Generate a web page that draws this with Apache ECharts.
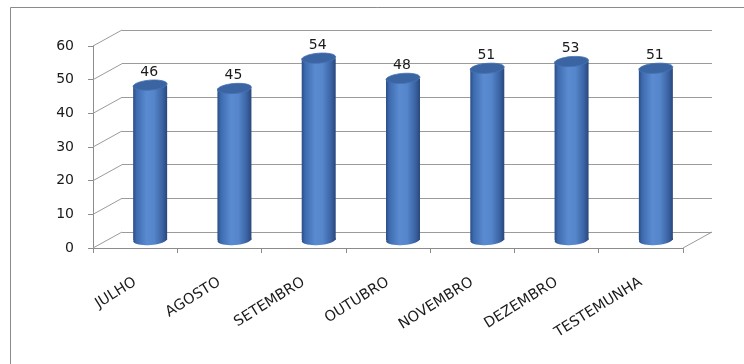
<!DOCTYPE html>
<html>
<head>
<meta charset="utf-8">
<script src="https://cdn.jsdelivr.net/npm/echarts@6/dist/echarts.min.js"></script>
<style>
  html, body { margin: 0; padding: 0; background: #fff; }
  #chart { width: 744px; height: 364px; }
</style>
</head>
<body>
<div id="chart"></div>
<script>
// Monthly counts, with the control group ("TESTEMUNHA") last
const categories = ['JULHO', 'AGOSTO', 'SETEMBRO', 'OUTUBRO', 'NOVEMBRO', 'DEZEMBRO', 'TESTEMUNHA'];
const values = [46, 45, 54, 48, 51, 53, 51];
const yMin = 0, yMax = 60, yStep = 10;
const yTicks = [0, 10, 20, 30, 40, 50, 60];

// Front plane of the pseudo-3D box and the depth shift to its back wall
const FRONT = { left: 93, top: 46, right: 61, bottom: 116 };
const DEPTH = { x: 29, y: -16 };
const BACK = {
  left: FRONT.left + DEPTH.x, top: FRONT.top + DEPTH.y,
  right: FRONT.right - DEPTH.x, bottom: FRONT.bottom - DEPTH.y
};

const GRID_COLOR = '#9b9b9b';
const AXIS_COLOR = '#8c8c8c';
const TEXT_COLOR = '#1a1a1a';
const FONT = 'DejaVu Sans';

const bodyGradient = {
  type: 'linear', x: 0, y: 0, x2: 1, y2: 0,
  colorStops: [
    { offset: 0, color: '#2b4d85' },
    { offset: 0.1, color: '#3e6baf' },
    { offset: 0.4, color: '#5a8bd1' },
    { offset: 0.62, color: '#5585ca' },
    { offset: 0.86, color: '#3b64a4' },
    { offset: 1, color: '#29477b' }
  ]
};

const chart = echarts.init(document.getElementById('chart'), null, { renderer: 'canvas' });

chart.setOption({
  animation: false,
  backgroundColor: '#ffffff',
  graphic: [{
    type: 'rect', left: 8, top: 5, silent: true,
    shape: { width: 800, height: 420 },
    style: { fill: 'none', stroke: '#8a8a8a', lineWidth: 1 }
  }],
  grid: [
    Object.assign({ containLabel: false }, FRONT),
    Object.assign({ containLabel: false }, BACK)
  ],
  xAxis: [{
    type: 'category', gridIndex: 0, data: categories,
    axisLine: { show: true, lineStyle: { color: AXIS_COLOR, width: 1 } },
    axisTick: { show: true, length: 5, alignWithLabel: false, lineStyle: { color: AXIS_COLOR } },
    axisLabel: {
      interval: 0, rotate: 32, margin: 33,
      fontFamily: FONT, fontSize: 14.5, color: TEXT_COLOR
    },
    splitLine: { show: false }
  }, {
    type: 'category', gridIndex: 1, data: categories, show: false
  }],
  yAxis: [{
    type: 'value', gridIndex: 0, min: yMin, max: yMax, interval: yStep,
    axisLine: { show: true, lineStyle: { color: AXIS_COLOR, width: 1 } },
    axisTick: { show: true, length: 5, lineStyle: { color: AXIS_COLOR } },
    axisLabel: { margin: 19, fontFamily: FONT, fontSize: 14, color: TEXT_COLOR },
    splitLine: { show: false }
  }, {
    type: 'value', gridIndex: 1, min: yMin, max: yMax, interval: yStep,
    axisLine: { show: false }, axisTick: { show: false }, axisLabel: { show: false },
    splitLine: { show: true, lineStyle: { color: GRID_COLOR, width: 1 } }
  }],
  series: [{
    // side wall: slanted lines joining each front tick to its back gridline
    type: 'custom', xAxisIndex: 0, yAxisIndex: 0, silent: true, z: 1,
    data: yTicks.map(v => [0, v]),
    renderItem: function (params, api) {
      const cs = params.coordSys;
      const y = api.coord([0, api.value(1)])[1];
      return {
        type: 'line',
        shape: { x1: cs.x, y1: y, x2: cs.x + DEPTH.x, y2: y + DEPTH.y },
        style: { stroke: GRID_COLOR, lineWidth: 1 }
      };
    }
  }, {
    // floor edge on the right
    type: 'custom', xAxisIndex: 0, yAxisIndex: 0, silent: true, z: 1,
    data: [[categories.length - 1, 0]],
    renderItem: function (params, api) {
      const cs = params.coordSys;
      const y = api.coord([0, 0])[1];
      const x = cs.x + cs.width;
      return {
        type: 'line',
        shape: { x1: x, y1: y, x2: x + DEPTH.x, y2: y + DEPTH.y },
        style: { stroke: GRID_COLOR, lineWidth: 1 }
      };
    }
  }, {
    // cylinders, centred halfway into the box depth
    type: 'custom', xAxisIndex: 0, yAxisIndex: 0, z: 5,
    data: values.map((v, i) => [i, v]),
    renderItem: function (params, api) {
      const i = api.value(0), v = api.value(1);
      const top = api.coord([i, v]);
      const base = api.coord([i, 0]);
      const cx = top[0] + DEPTH.x / 2 + 0.5;
      const topY = top[1] + DEPTH.y / 2;
      const botY = base[1] + DEPTH.y / 2;
      const rx = 17, ry = 5, tilt = 0.08;
      return {
        type: 'group',
        children: [{
          type: 'ellipse',
          shape: { cx: cx, cy: botY, rx: rx, ry: ry },
          rotation: tilt, originX: cx, originY: botY,
          style: { fill: bodyGradient }
        }, {
          type: 'rect',
          shape: { x: cx - rx, y: topY, width: rx * 2, height: botY - topY },
          style: { fill: bodyGradient }
        }, {
          type: 'ellipse',
          shape: { cx: cx, cy: topY, rx: rx, ry: ry },
          rotation: tilt, originX: cx, originY: topY,
          style: { fill: '#3b64a3', stroke: '#4673b4', lineWidth: 0.8 }
        }, {
          type: 'text',
          x: cx - 1, y: topY - 6,
          style: {
            text: String(v), fill: TEXT_COLOR,
            font: '14px "' + FONT + '"',
            align: 'center', verticalAlign: 'bottom'
          }
        }]
      };
    }
  }]
});
</script>
</body>
</html>
